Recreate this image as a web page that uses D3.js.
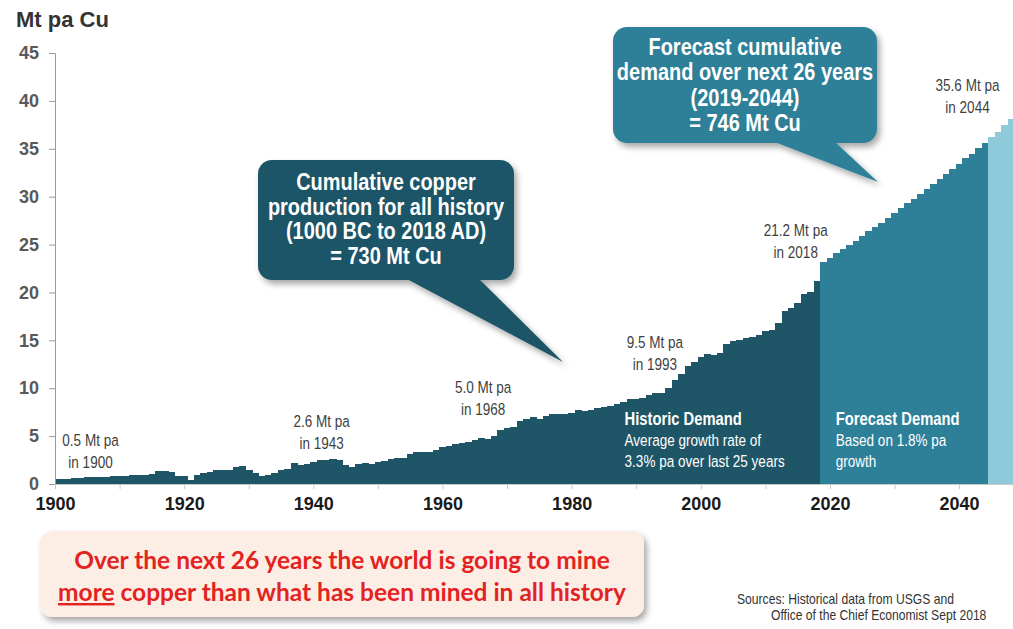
<!DOCTYPE html>
<html>
<head>
<meta charset="utf-8">
<script src="https://cdn.jsdelivr.net/npm/d3@7"></script>
<style>
  html, body { margin: 0; padding: 0; background: #ffffff; }
  svg { display: block; }
</style>
</head>
<body>
<svg id="chart" width="1013" height="629"></svg>
<script>
// ---------------- DATA ----------------
const historicStartYear = 1900;
const historicValues = [
  0.5, 0.52, 0.55, 0.6, 0.65, 0.7, 0.72, 0.75, 0.76, 0.8,      // 1900s
  0.85, 0.88, 0.95, 0.95, 0.9, 1.05, 1.35, 1.35, 1.3, 0.85,    // 1910s
  0.85, 0.42, 0.95, 1.2, 1.25, 1.45, 1.5, 1.5, 1.75, 1.85,     // 1920s
  1.45, 1.1, 0.8, 0.9, 1.15, 1.45, 1.55, 2.2, 1.95, 2.05,      // 1930s
  2.3, 2.5, 2.55, 2.6, 2.55, 2.0, 1.8, 2.1, 2.15, 2.1,         // 1940s
  2.3, 2.4, 2.6, 2.7, 2.7, 3.1, 3.3, 3.35, 3.3, 3.5,           // 1950s
  3.9, 4.0, 4.2, 4.3, 4.4, 4.6, 4.8, 4.7, 5.0, 5.6,            // 1960s
  5.8, 5.9, 6.6, 6.8, 7.0, 6.8, 7.1, 7.3, 7.3, 7.3,            // 1970s
  7.4, 7.7, 7.6, 7.7, 7.9, 8.0, 8.1, 8.4, 8.6, 8.9,            // 1980s
  8.9, 9.0, 9.3, 9.5, 9.5, 10.0, 10.9, 11.5, 12.3, 12.7,       // 1990s
  13.3, 13.6, 13.5, 13.7, 14.6, 14.9, 15.0, 15.2, 15.4, 15.6,  // 2000s
  16.0, 16.1, 16.8, 18.1, 18.4, 18.9, 19.8, 20.0, 21.2         // 2010-2018
];
const forecastStartYear = 2019;
const forecastValues = [
  23.2, 23.6, 24.1, 24.5, 25.0, 25.4, 25.9, 26.4, 26.8, 27.3,
  27.8, 28.3, 28.8, 29.3, 29.8, 30.3, 30.8, 31.3, 31.8, 32.4,
  32.9, 33.4, 34.0, 34.5, 35.1, 35.6
];
const extensionStartYear = 2045;
const extensionValues = [36.2, 36.8, 37.5, 38.1];

const yTickValues = [0, 5, 10, 15, 20, 25, 30, 35, 40, 45];
const xTickValues = [1900, 1910, 1920, 1930, 1940, 1950, 1960, 1970, 1980, 1990, 2000, 2010, 2020, 2030, 2040];
const xLabelYears = [1900, 1920, 1940, 1960, 1980, 2000, 2020, 2040];

const pointLabels = [
  { year: 1905.5, value: 4.6, lines: ["0.5 Mt pa", "in 1900"] },
  { year: 1941.3, value: 6.6, lines: ["2.6 Mt pa", "in 1943"] },
  { year: 1966.3, value: 10.1, lines: ["5.0 Mt pa", "in 1968"] },
  { year: 1992.9, value: 14.8, lines: ["9.5 Mt pa", "in 1993"] },
  { year: 2014.7, value: 26.5, lines: ["21.2 Mt pa", "in 2018"] },
  { year: 2041.3, value: 41.7, lines: ["35.6 Mt pa", "in 2044"] }
];

// ---------------- SETUP ----------------
const svg = d3.select("#chart");
const x = d3.scaleLinear().domain([1900, 2048.5]).range([55, 1014]);
const y = d3.scaleLinear().domain([0, 45]).range([484, 53]);

const C_HIST = "#1e5567";
const C_FORE = "#2e8099";
const C_EXT = "#8fcadb";
const SANS = "'Liberation Sans', Arial, sans-serif";

// Arial-Narrow look: Liberation Sans squeezed horizontally
function narrowText(parent, px, py, str, opts) {
  const sx = opts.scale || 0.82;
  const g = parent.append("g").attr("transform", `translate(${px},${py}) scale(${sx},1)`);
  const t = g.append("text").attr("x", 0).attr("y", 0)
    .attr("font-family", SANS)
    .attr("font-size", opts.size)
    .attr("font-weight", opts.bold ? "bold" : "normal")
    .attr("fill", opts.fill)
    .attr("text-anchor", opts.anchor || "start")
    .text(str);
  return t;
}

const defs = svg.append("defs");
const f = defs.append("filter").attr("id", "shadow").attr("x", "-10%").attr("y", "-10%").attr("width", "130%").attr("height", "140%");
f.append("feDropShadow").attr("dx", 3).attr("dy", 4).attr("stdDeviation", 3).attr("flood-color", "#000").attr("flood-opacity", 0.35);

// ---------------- BARS ----------------
function drawSeries(values, startYear, color, cls) {
  const data = values.map((v, i) => ({ year: startYear + i, value: v }));
  svg.append("g").attr("class", cls)
    .selectAll("rect").data(data).join("rect")
    .attr("x", d => x(Math.max(1900, d.year - 0.5)))
    .attr("width", d => x(d.year + 0.5) - x(Math.max(1900, d.year - 0.5)) + 0.6)
    .attr("y", d => y(d.value))
    .attr("height", d => y(0) - y(d.value))
    .attr("fill", color)
    .attr("shape-rendering", "crispEdges");
}
drawSeries(historicValues, historicStartYear, C_HIST, "historic");
drawSeries(forecastValues, forecastStartYear, C_FORE, "forecast");
drawSeries(extensionValues, extensionStartYear, C_EXT, "extension");

// ---------------- AXES ----------------
const yAxis = svg.append("g").attr("transform", `translate(${x(1900)},0)`)
  .call(d3.axisLeft(y).tickValues(yTickValues).tickSize(6).tickPadding(10).tickFormat(d3.format("d")));
yAxis.select(".domain").attr("stroke", "#9a9a9a");
yAxis.selectAll(".tick line").attr("stroke", "#9a9a9a");
yAxis.selectAll(".tick text").attr("font-family", SANS).attr("font-weight", "bold")
  .attr("font-size", 18).attr("fill", "#595959");

const xAxis = svg.append("g").attr("transform", `translate(0,${y(0)})`)
  .call(d3.axisBottom(x).tickValues(xTickValues).tickSize(5).tickPadding(8)
    .tickFormat(d => xLabelYears.includes(d) ? d : ""));
xAxis.select(".domain").attr("stroke", "#c8c8c8").attr("d", `M${x(1900)},0.5H1013`);
xAxis.selectAll(".tick line").attr("stroke", "#c8c8c8");
xAxis.selectAll(".tick text").attr("font-family", SANS).attr("font-weight", "bold")
  .attr("font-size", 18).attr("fill", "#1a1a1a");

svg.append("text").attr("x", 16).attr("y", 27)
  .attr("font-family", SANS).attr("font-weight", "bold").attr("font-size", 22)
  .attr("fill", "#333").text("Mt pa Cu");

// ---------------- POINT LABELS ----------------
pointLabels.forEach(p => {
  p.lines.forEach((ln, i) => {
    narrowText(svg, x(p.year), y(p.value) + 6 + i * 22, ln, { size: 16.5, fill: "#3f3f3f", anchor: "middle" });
  });
});

// ---------------- AREA TEXTS ----------------
function blockText(px, py, title, lines) {
  narrowText(svg, px, py, title, { size: 18, bold: true, fill: "#fff" });
  lines.forEach((ln, i) => narrowText(svg, px, py + 21 + i * 21, ln, { size: 16.5, fill: "#fff" }));
}
blockText(x(1988.2), 425, "Historic Demand", ["Average growth rate of", "3.3% pa over last 25 years"]);
blockText(x(2020.9), 425, "Forecast Demand", ["Based on 1.8% pa", "growth"]);

// ---------------- CALLOUTS ----------------
function callout(box, tail, color, lines, lineY, step) {
  const g = svg.append("g").attr("filter", "url(#shadow)");
  g.append("rect").attr("x", box.x).attr("y", box.y).attr("width", box.w).attr("height", box.h)
    .attr("rx", 14).attr("fill", color);
  g.append("path").attr("d", `M${tail[0][0]},${tail[0][1]}L${tail[1][0]},${tail[1][1]}L${tail[2][0]},${tail[2][1]}Z`)
    .attr("fill", color);
  lines.forEach((ln, i) => narrowText(svg, box.x + box.w / 2, lineY + i * step, ln,
    { size: 23.5, bold: true, fill: "#fff", anchor: "middle", scale: 0.85 }));
}
callout({ x: 258, y: 160, w: 256, h: 120 }, [[405, 278], [478, 278], [563, 362]], C_HIST,
  ["Cumulative copper", "production for all history", "(1000 BC to 2018 AD)", "= 730 Mt Cu"], 190, 24.7);
callout({ x: 613, y: 27, w: 264, h: 116 }, [[772, 141], [834, 141], [878, 182]], C_FORE,
  ["Forecast cumulative", "demand over next 26 years", "(2019-2044)", "= 746 Mt Cu"], 55, 25.3);

// ---------------- BOTTOM MESSAGE ----------------
const mg = svg.append("g");
mg.append("rect").attr("x", 40).attr("y", 531).attr("width", 604).attr("height", 86).attr("rx", 12)
  .attr("fill", "#fdeee5").attr("filter", "url(#shadow)");
const msgFont = "Lato, 'Open Sans', sans-serif";
mg.append("text").attr("x", 342).attr("y", 569).attr("text-anchor", "middle")
  .attr("font-family", msgFont).attr("font-weight", "bold").attr("font-size", 24.5).attr("fill", "#e3231f")
  .text("Over the next 26 years the world is going to mine");
const l2 = mg.append("text").attr("x", 342).attr("y", 601).attr("text-anchor", "middle")
  .attr("font-family", msgFont).attr("font-weight", "bold").attr("font-size", 24.5).attr("fill", "#e3231f");
l2.append("tspan").attr("text-decoration", "underline").text("more");
l2.append("tspan").text(" copper than what has been mined in all history");

// ---------------- SOURCES ----------------
narrowText(svg, 737, 604, "Sources: Historical data from USGS and", { size: 14.8, fill: "#333" });
narrowText(svg, 771, 620, "Office of the Chief Economist Sept 2018", { size: 14.8, fill: "#333" });
</script>
</body>
</html>
